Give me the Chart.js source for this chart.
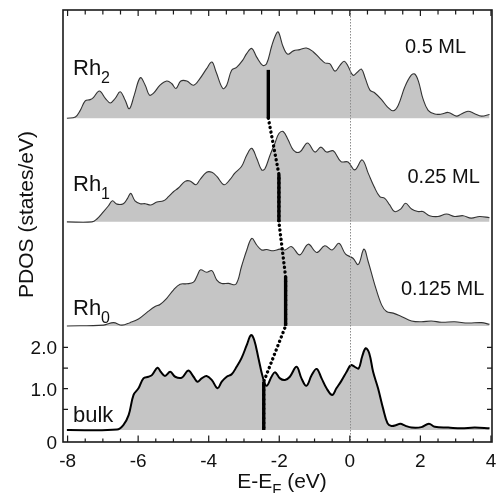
<!DOCTYPE html>
<html><head><meta charset="utf-8">
<script src="https://cdn.jsdelivr.net/npm/chart.js@4.4.1/dist/chart.umd.min.js"></script>
<style>html,body{margin:0;padding:0;background:#fff;}</style>
</head><body>
<canvas id="c" width="498" height="493" style="width:498px;height:493px;display:block"></canvas>
<script>
// ---------- data (energies in eV, PDOS heights in states/eV above each panel baseline) ----------
const bulkE = [-8.02,-6.60,-6.42,-6.27,-6.13,-5.99,-5.85,-5.71,-5.61,-5.45,-5.36,-5.24,-5.09,-4.95,-4.76,-4.58,-4.43,-4.32,-4.20,-4.06,-3.91,-3.75,-3.63,-3.49,-3.35,-3.21,-3.07,-2.92,-2.80,-2.71,-2.59,-2.47,-2.36,-2.22,-2.12,-1.98,-1.84,-1.70,-1.51,-1.37,-1.23,-1.08,-0.94,-0.80,-0.66,-0.50,-0.38,-0.24,-0.09,0.03,0.14,0.25,0.35,0.45,0.55,0.66,0.80,0.94,1.07,1.18,1.32,1.43,1.58,1.75,2.03,2.24,2.41,2.79,3.16,3.54,3.96];
const bulkD = [0,0.01,0.12,0.36,0.85,1.01,1.25,1.29,1.33,1.51,1.41,1.31,1.41,1.29,1.27,1.44,1.29,1.17,1.25,1.31,1.21,1.01,1.17,1.29,1.35,1.53,1.74,2.06,2.30,2.18,1.74,1.29,1.07,1.29,1.40,1.25,1.21,1.29,1.53,1.25,1.07,1.33,1.48,1.25,1.01,0.85,1.01,1.19,1.41,1.57,1.53,1.49,1.78,1.98,1.86,1.41,1.01,0.53,0.16,0.10,0.12,0.15,0.10,0.06,0.07,0.15,0.08,0.06,0.04,0.06,0.04];

const rh0E = [-8.02,-6.98,-6.70,-6.46,-6.23,-5.99,-5.75,-5.52,-5.38,-5.19,-5.00,-4.81,-4.62,-4.43,-4.32,-4.23,-4.06,-3.91,-3.77,-3.63,-3.44,-3.23,-3.07,-2.92,-2.78,-2.64,-2.50,-2.36,-2.17,-1.98,-1.84,-1.65,-1.42,-1.18,-0.94,-0.71,-0.50,-0.31,-0.12,0.09,0.24,0.40,0.52,0.71,0.90,1.04,1.23,1.46,1.75,2.03,2.31,2.60,2.97,3.35,3.73,3.96];
const rh0D = [0,0.02,0.08,0.02,0.08,0.17,0.33,0.47,0.52,0.67,0.87,1.01,1.02,1.06,1.23,1.36,1.30,1.34,1.11,1.03,1.03,1.01,1.44,1.84,2.12,1.96,1.84,1.85,1.82,1.86,1.84,1.92,1.72,1.98,1.78,1.94,1.84,2.00,1.74,1.64,1.49,1.86,1.56,0.99,0.51,0.35,0.31,0.23,0.12,0.10,0.12,0.09,0.10,0.07,0.08,0.04];

const rh1E = [-8.02,-7.31,-7.17,-6.98,-6.84,-6.73,-6.60,-6.42,-6.30,-6.21,-6.09,-5.94,-5.80,-5.64,-5.47,-5.28,-5.14,-5.00,-4.86,-4.67,-4.53,-4.36,-4.25,-4.06,-3.91,-3.77,-3.57,-3.40,-3.26,-3.07,-2.92,-2.78,-2.64,-2.50,-2.41,-2.26,-2.12,-2.01,-1.89,-1.75,-1.60,-1.42,-1.20,-0.99,-0.82,-0.66,-0.47,-0.25,-0.05,0.14,0.35,0.52,0.69,0.85,0.99,1.13,1.27,1.44,1.58,1.75,1.93,2.07,2.26,2.50,2.74,2.97,3.21,3.44,3.68,3.96];
const rh1D = [0,0,0.07,0.25,0.39,0.51,0.43,0.44,0.57,0.69,0.51,0.44,0.44,0.41,0.48,0.51,0.61,0.73,0.82,0.98,0.99,0.90,1.02,1.20,1.20,1.10,0.90,1.02,1.18,1.34,1.62,1.78,1.54,1.26,1.28,1.62,1.91,2.14,2.19,1.99,1.74,1.69,1.91,1.69,1.81,1.69,1.72,1.46,1.45,1.26,1.50,1.18,0.85,0.61,0.57,0.41,0.25,0.31,0.45,0.31,0.25,0.25,0.15,0.13,0.19,0.13,0.15,0.09,0.13,0.10];

const rh2E = [-8.02,-7.78,-7.64,-7.50,-7.36,-7.27,-7.10,-6.93,-6.79,-6.65,-6.51,-6.37,-6.25,-6.11,-5.94,-5.80,-5.68,-5.57,-5.38,-5.19,-5.05,-4.93,-4.79,-4.62,-4.43,-4.25,-4.06,-3.91,-3.79,-3.60,-3.49,-3.35,-3.21,-3.04,-2.92,-2.78,-2.64,-2.47,-2.36,-2.22,-2.12,-2.03,-1.89,-1.76,-1.60,-1.42,-1.23,-1.04,-0.85,-0.71,-0.57,-0.42,-0.28,-0.16,-0.05,0.09,0.22,0.33,0.44,0.57,0.71,0.90,1.07,1.23,1.37,1.56,1.73,1.84,1.95,2.07,2.22,2.41,2.60,2.79,3.02,3.16,3.35,3.54,3.73,3.96];
const rh2D = [0,0.03,0.19,0.42,0.45,0.50,0.66,0.48,0.37,0.48,0.64,0.44,0.23,0.56,0.98,0.80,0.56,0.60,0.80,0.90,0.84,0.72,0.90,0.90,0.80,0.96,1.20,1.36,1.12,0.72,0.80,1.16,1.23,1.40,1.57,1.69,1.48,1.28,1.32,1.73,1.98,2.09,1.73,1.55,1.63,1.66,1.70,1.61,1.45,1.34,1.32,1.14,1.28,1.38,1.26,1.04,1.12,1.19,0.96,0.68,0.61,0.45,0.27,0.18,0.31,0.76,1.03,1.07,0.88,0.48,0.19,0.10,0.10,0.14,0.05,0.10,0.17,0.11,0.05,0.09];

// panel order: Rh2, Rh1, Rh0, bulk
const panelNames   = ['Rh', 'Rh', 'Rh', 'bulk'];
const panelSubs    = ['2', '1', '0', ''];
const coverages    = ['0.5 ML', '0.25 ML', '0.125 ML', ''];
const panelOffsets = [7.55, 5.04, 2.52, 0];       // vertical shift of each spectrum
const dCenterE     = [-2.31, -2.01, -1.82, -2.44]; // d-band centre markers
const dCenterH     = [1.17, 1.15, 1.19, 1.17];     // marker heights

const xTickValues = [-8, -6, -4, -2, 0, 2, 4];
const xTickLabels = ['-8', '-6', '-4', '-2', '0', '2', '4'];
const yTickValues = [2, 1];
const yTickLabels = ['2.0', '1.0'];
const yZeroLabel  = '0';
const fermiE = 0;
const xMin = -8.13, xMax = 4.03, yMin = -0.29, yMax = 10.17;

// ---------- build datasets ----------
const seriesE = [rh2E, rh1E, rh0E, bulkE];
const seriesD = [rh2D, rh1D, rh0D, bulkD];
const FONT = '"Liberation Sans", Arial, Helvetica, sans-serif';
const datasets = [];

// d-band centre markers (on top)
dCenterE.forEach((e, i) => {
  datasets.push({
    data: [{x: e, y: panelOffsets[i]}, {x: e, y: panelOffsets[i] + dCenterH[i]}],
    borderColor: '#000', borderWidth: 3.4, pointRadius: 0, fill: false, tension: 0, order: 0,
    borderCapStyle: 'butt'
  });
});
// dotted connector
const conn = [];
for (let i = 0; i < 4; i++) {
  if (i > 0) conn.push({x: dCenterE[i], y: panelOffsets[i] + dCenterH[i]});
  conn.push({x: dCenterE[i], y: panelOffsets[i]});
}
datasets.push({
  data: conn, borderColor: '#000', borderWidth: 3.4, borderDash: [0.1, 4.6],
  borderCapStyle: 'round', pointRadius: 0, fill: false, tension: 0, order: 1
});
// spectra
seriesE.forEach((arr, i) => {
  const isBulk = i === 3;
  datasets.push({
    data: arr.map((e, k) => ({x: e, y: seriesD[i][k] + panelOffsets[i]})),
    borderColor: isBulk ? '#000' : '#333',
    borderWidth: isBulk ? 2 : 1.1,
    backgroundColor: '#c5c5c5',
    fill: {value: panelOffsets[i]},
    pointRadius: 0,
    tension: 0.38,
    order: 2 + i
  });
});

function drawSubText(ctx, parts, x, y, align) {
  let w = 0;
  parts.forEach(p => { ctx.font = p[1] + 'px ' + FONT; w += ctx.measureText(p[0]).width; });
  let cx = align === 'center' ? x - w / 2 : x;
  ctx.textAlign = 'left'; ctx.textBaseline = 'alphabetic';
  parts.forEach(p => {
    ctx.font = p[1] + 'px ' + FONT;
    ctx.fillText(p[0], cx, y + p[2]);
    cx += ctx.measureText(p[0]).width;
  });
}

const decor = {
  id: 'decor',
  afterDatasetsDraw(chart) {
    const {ctx, chartArea: a, scales: {x}} = chart;
    ctx.save();
    ctx.strokeStyle = '#8c8c8c'; ctx.lineWidth = 1; ctx.setLineDash([1.5, 1.5]);
    const x0 = Math.round(x.getPixelForValue(fermiE)) + 0.5;
    ctx.beginPath(); ctx.moveTo(x0, a.top); ctx.lineTo(x0, a.bottom); ctx.stroke();
    ctx.restore();
  },
  afterDraw(chart) {
    const {ctx, chartArea: a, scales: {x, y}} = chart;
    ctx.save();
    ctx.strokeStyle = '#1a1a1a'; ctx.lineWidth = 1.6;
    ctx.strokeRect(a.left, a.top, a.right - a.left, a.bottom - a.top);
    ctx.lineWidth = 1.2;
    ctx.beginPath();
    for (let v = -8; v <= 4.001; v += 0.5) {
      const px = x.getPixelForValue(v);
      const major = Math.abs(v / 2 - Math.round(v / 2)) < 1e-6;
      ctx.moveTo(px, a.bottom); ctx.lineTo(px, a.bottom - (major ? 6.5 : 3.5));
      ctx.moveTo(px, a.top); ctx.lineTo(px, a.top + (major ? 6 : 4.5));
    }
    [0.5, 1, 1.5, 2].forEach(v => {
      const py = y.getPixelForValue(v);
      ctx.moveTo(a.left, py); ctx.lineTo(a.left + 5, py);
      ctx.moveTo(a.right, py); ctx.lineTo(a.right - 5, py);
    });
    ctx.stroke();
    ctx.fillStyle = '#111';
    ctx.font = '19px ' + FONT;
    ctx.textAlign = 'center'; ctx.textBaseline = 'alphabetic';
    xTickValues.forEach((v, i) => ctx.fillText(xTickLabels[i], x.getPixelForValue(v), a.bottom + 25));
    ctx.textAlign = 'right';
    yTickValues.forEach((v, i) => ctx.fillText(yTickLabels[i], a.left - 6, y.getPixelForValue(v) + 6.8));
    ctx.fillText(yZeroLabel, a.left - 6, a.bottom + 7);
    drawSubText(ctx, [['E-E', 21, 0], ['F', 15, 6], [' (eV)', 21, 0]], 282, 488, 'center');
    ctx.save();
    ctx.translate(33, 214.5); ctx.rotate(-Math.PI / 2);
    ctx.font = '21px ' + FONT; ctx.textAlign = 'center'; ctx.textBaseline = 'alphabetic';
    ctx.fillText('PDOS (states/eV)', 0, 0);
    ctx.restore();
    const nameBase = [75, 190.5, 315, 421.7];
    panelNames.forEach((n, i) => {
      drawSubText(ctx, [[n, 22, 0], [panelSubs[i], 16, 8]], 73, nameBase[i], 'left');
    });
    const covX = [405, 407.5, 401], covY = [53.3, 183.3, 295];
    ctx.font = '20px ' + FONT; ctx.textAlign = 'left';
    coverages.forEach((c, i) => { if (c) ctx.fillText(c, covX[i], covY[i]); });
    ctx.restore();
  }
};

new Chart(document.getElementById('c'), {
  type: 'line',
  data: {datasets},
  options: {
    responsive: false, animation: false, devicePixelRatio: 1,
    layout: {padding: {left: 63, top: 10, right: 6, bottom: 51}},
    plugins: {legend: {display: false}, tooltip: {enabled: false}},
    scales: {
      x: {type: 'linear', min: xMin, max: xMax, display: false},
      y: {type: 'linear', min: yMin, max: yMax, display: false}
    }
  },
  plugins: [decor]
});
</script>
</body></html>
